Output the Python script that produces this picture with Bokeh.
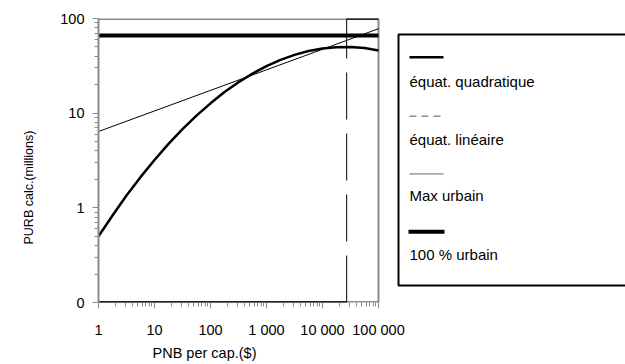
import math
from bokeh.plotting import figure
from bokeh.models import Range1d, LinearScale, FixedTicker, Title, CustomJSTickFormatter
from bokeh.embed import file_html
from bokeh.resources import INLINE
from bokeh.core.properties import value

# ---------------- data ----------------
x_ticks = [1, 10, 100, 1000, 10000, 100000]
x_tick_labels = ["1", "10", "100", "1 000", "10 000", "100 000"]
y_ticks = [0.1, 1, 10, 100]
y_tick_labels = ["0", "1", "10", "100"]

# quadratic equation curve (PNB per cap. -> PURB calc., millions)
pnb_quad = [1, 1.78, 3.16, 5.62, 10, 17.8, 31.6, 56.2, 100, 178, 316, 562,
            1000, 1778, 3162, 5623, 10000, 17783, 31623, 56234, 100000]
purb_quad = [0.50, 0.83, 1.35, 2.11, 3.20, 4.73, 6.78, 9.43, 12.7, 16.7, 21.2, 26.2,
             31.4, 36.6, 41.3, 45.3, 48.2, 49.8, 50.0, 48.7, 45.9]

# linear equation line
pnb_lin = [1, 100000]
purb_lin = [6.4, 78]

# 100 % urbain
pnb_full = [1, 100000]
purb_full = [66, 66]

# Max urbain step
pnb_max = 27000
max_low = 0.1
max_high = 100
pnb_min, pnb_top = 1, 100000

legend_labels = ["équat. quadratique", "équat. linéaire", "Max urbain", "100 % urbain"]
x_title = "PNB per cap.($)"
y_title = "PURB calc.(millions)"

# ---------------- layout ----------------
W, H = 625, 364
FL, FR, FT, FB = 98, 625, 18, 303
DEC_X = 56.0
FONT = "Liberation Sans"
GRAY = "#8c8c8c"

p = figure(width=W, height=H, x_axis_type="log", y_axis_type="log",
           x_range=Range1d(1, 10 ** ((FR - FL) / DEC_X)),
           y_range=Range1d(0.1, 100),
           output_backend="svg", toolbar_location=None,
           min_border_left=FL, min_border_right=W - FR,
           min_border_top=FT, min_border_bottom=H - FB)
p.extra_x_ranges = {"px": Range1d(FL, FR)}
p.extra_y_ranges = {"px": Range1d(FB, FT)}
p.extra_x_scales = {"px": LinearScale()}
p.extra_y_scales = {"px": LinearScale()}

p.grid.visible = False
p.outline_line_color = None
p.background_fill_color = "white"
p.border_fill_color = "white"

xa = p.xaxis[0]
ya = p.yaxis[0]
xa.ticker = FixedTicker(ticks=x_ticks,
                        minor_ticks=[m * 10 ** d for d in range(5) for m in range(2, 10)])
ya.ticker = FixedTicker(ticks=y_ticks,
                        minor_ticks=[m * 10 ** d for d in range(-1, 2) for m in range(2, 10)])
fmt_code = """
const i = t.findIndex(v => Math.abs(Math.log10(v) - Math.log10(tick)) < 1e-6);
return i >= 0 ? l[i] : '';
"""
xa.formatter = CustomJSTickFormatter(args=dict(t=x_ticks, l=x_tick_labels), code=fmt_code)
ya.formatter = CustomJSTickFormatter(args=dict(t=y_ticks, l=y_tick_labels), code=fmt_code)

for ax in (xa, ya):
    ax.axis_line_color = GRAY
    ax.axis_line_width = 2
    ax.major_tick_line_color = GRAY
    ax.major_tick_line_width = 1
    ax.major_tick_out = 6
    ax.major_tick_in = 0
    ax.minor_tick_line_color = GRAY
    ax.minor_tick_out = 4
    ax.minor_tick_in = 0
    ax.major_label_text_font = FONT
    ax.major_label_text_font_size = "14.5px"
    ax.major_label_text_color = "black"
xa.axis_line_color = None
xa.major_label_standoff = 13
ya.major_label_standoff = 8

# plot-area border & bottom axis line
p.line([pnb_min, pnb_top], [max_low, max_low], line_color=GRAY, line_width=3)
p.line([pnb_min, pnb_top], [max_high, max_high], line_color=GRAY, line_width=3)
p.line([pnb_top, pnb_top], [max_low, max_high], line_color=GRAY, line_width=2)

# Max urbain (step) solid parts
p.multi_line([[pnb_min, pnb_max], [pnb_max, pnb_top]],
             [[max_low, max_low], [max_high, max_high]],
             line_color="black", line_width=2.5)
# vertical dashed at max
p.line([pnb_max, pnb_max], [max_low, max_high], line_color="black",
       line_width=1, line_dash="47 14")

# linear equation
p.line(pnb_lin, purb_lin, line_color="black", line_width=1)
# quadratic equation
p.line(pnb_quad, purb_quad, line_color="black", line_width=2.5)
# 100 % urbain
p.line(pnb_full, purb_full, line_color="black", line_width=4)

# ---------------- legend (pixel-mapped ranges) ----------------
p.quad(left=[398], right=[700], top=[34], bottom=[286], fill_color=None,
       line_color="black", line_width=2, x_range_name="px", y_range_name="px")
lx0, lx1 = 409, 443
p.line([lx0, lx1], [57, 57], line_color="black", line_width=2.5,
       x_range_name="px", y_range_name="px")
p.line([lx0, lx1], [116, 116], line_color="#555555", line_width=1, line_dash="7 5",
       x_range_name="px", y_range_name="px")
p.line([lx0, lx1], [174, 174], line_color="#666666", line_width=1,
       x_range_name="px", y_range_name="px")
p.line([lx0 - 1, lx1 + 1], [232, 232], line_color="black", line_width=4,
       x_range_name="px", y_range_name="px")
p.text(x=[lx0] * 4, y=[81, 139, 196, 255], text=legend_labels,
       text_font=value(FONT), text_font_size=value("15px"), text_color="black",
       text_align="left", text_baseline="middle",
       x_range_name="px", y_range_name="px")

# axis titles
p.add_layout(Title(text=y_title, align="left", offset=58, standoff=40,
                   vertical_align="top",
                   text_font=FONT, text_font_size="12.5px", text_font_style="normal",
                   text_color="black"), "left")
p.add_layout(Title(text=x_title, align="left", offset=54, standoff=6,
                   vertical_align="middle",
                   text_font=FONT, text_font_size="14.5px", text_font_style="normal",
                   text_color="black"), "below")

open("out.html", "w").write(file_html(p, INLINE))
